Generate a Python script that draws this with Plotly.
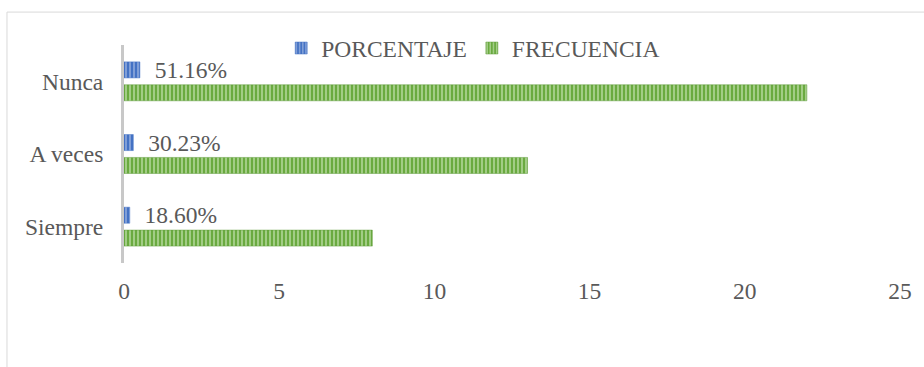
import plotly.graph_objects as go

categories = ["Siempre", "A veces", "Nunca"]
frecuencia = [8, 13, 22]
porcentaje = [0.1860, 0.3023, 0.5116]
porcentaje_labels = ["18.60%", "30.23%", "51.16%"]
x_ticks = [0, 5, 10, 15, 20, 25]

FONT = "Liberation Serif"
GRAY = "#595959"
FS = 23.5

fig = go.Figure()
fig.add_trace(go.Bar(
    y=categories, x=frecuencia, orientation="h", name="FRECUENCIA",
    marker=dict(color="#70AD47", line=dict(color="#5E9A3A", width=0.5),
                pattern=dict(shape="|", fgcolor="#A9D18E", bgcolor="#6AAA40",
                             size=4, solidity=0.45, fillmode="replace")),
    legendrank=2,
))
fig.add_trace(go.Bar(
    y=categories, x=porcentaje, orientation="h", name="PORCENTAJE",
    text=["  " + t for t in porcentaje_labels], textposition="outside",
    constraintext="none",
    textfont=dict(family=FONT, size=FS, color=GRAY), cliponaxis=False,
    marker=dict(color="#4472C4", line=dict(color="#4472C4", width=0.5),
                pattern=dict(shape="|", fgcolor="#8FAADC", bgcolor="#4472C4",
                             size=4, solidity=0.4, fillmode="replace")),
    legendrank=1,
))

fig.update_layout(
    width=924, height=367,
    margin=dict(l=124, r=24, t=45, b=104),
    paper_bgcolor="white", plot_bgcolor="white",
    barmode="group", bargap=0.37, bargroupgap=0.3,
    font=dict(family=FONT, size=FS, color=GRAY),
    showlegend=True,
    legend=dict(orientation="h", x=0.45, xanchor="center", y=0.985, yanchor="middle",
                font=dict(family=FONT, size=FS, color=GRAY),
                bgcolor="rgba(0,0,0,0)", itemwidth=30, traceorder="normal"),
    xaxis=dict(range=[0, 25], tickvals=x_ticks, showgrid=False, zeroline=False,
               showline=False, ticks="", ticklabelstandoff=11,
               tickfont=dict(family=FONT, size=FS, color=GRAY)),
    yaxis=dict(showgrid=False, zeroline=False, showline=True, linecolor="#C8C8C8",
               linewidth=3, ticks="", ticklabelstandoff=13,
               tickfont=dict(family=FONT, size=FS, color=GRAY)),
    shapes=[dict(type="rect", xref="paper", yref="paper",
                 x0=-0.1508, x1=1.2, y0=-0.8, y1=1.151,
                 line=dict(color="#D9D9D9", width=1), fillcolor="rgba(0,0,0,0)",
                 layer="below")],
)

fig.write_html("out.html")
